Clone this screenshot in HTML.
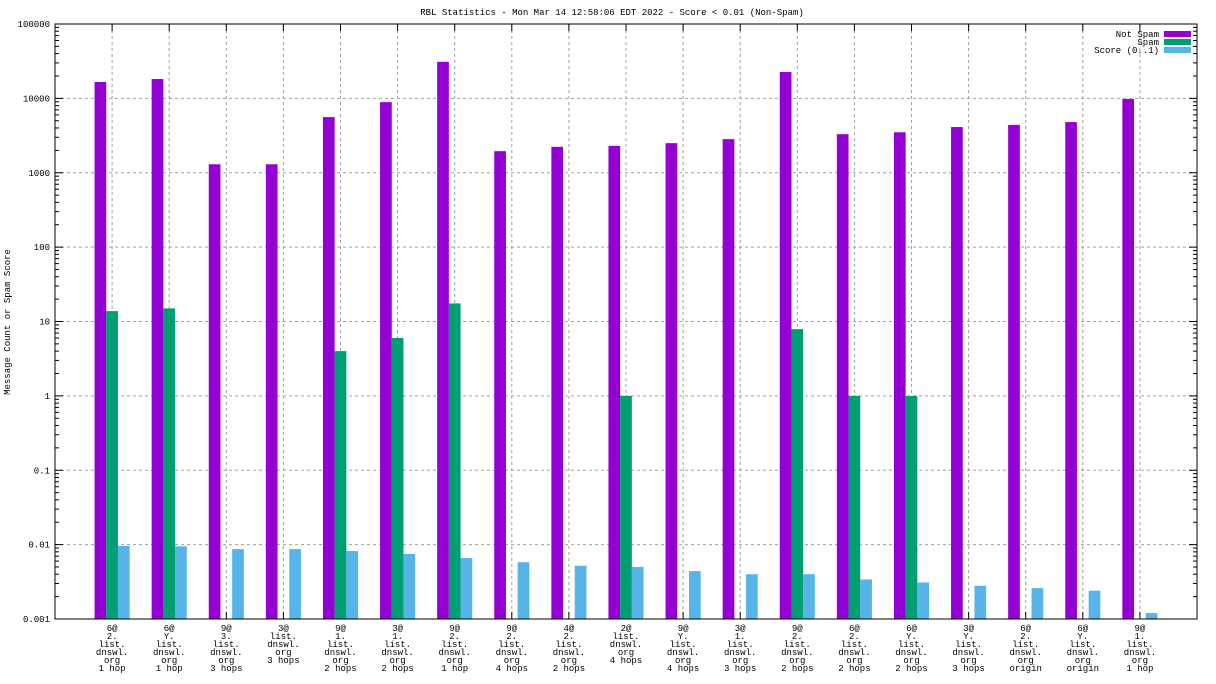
<!DOCTYPE html>
<html><head><meta charset="utf-8"><style>
html,body{margin:0;padding:0;background:#fff;}
svg{display:block;font-family:"Liberation Mono","DejaVu Sans Mono",monospace;}
</style></head><body>
<svg id="chart" width="1216" height="684" xmlns="http://www.w3.org/2000/svg"></svg>
<script>
const categories = [
 ["6@","2.","list.","dnswl.","org","1 hop"],
 ["6@","Y.","list.","dnswl.","org","1 hop"],
 ["9@","3.","list.","dnswl.","org","3 hops"],
 ["3@","list.","dnswl.","org","3 hops"],
 ["9@","1.","list.","dnswl.","org","2 hops"],
 ["3@","1.","list.","dnswl.","org","2 hops"],
 ["9@","2.","list.","dnswl.","org","1 hop"],
 ["9@","2.","list.","dnswl.","org","4 hops"],
 ["4@","2.","list.","dnswl.","org","2 hops"],
 ["2@","list.","dnswl.","org","4 hops"],
 ["9@","Y.","list.","dnswl.","org","4 hops"],
 ["3@","1.","list.","dnswl.","org","3 hops"],
 ["9@","2.","list.","dnswl.","org","2 hops"],
 ["6@","2.","list.","dnswl.","org","2 hops"],
 ["6@","Y.","list.","dnswl.","org","2 hops"],
 ["3@","Y.","list.","dnswl.","org","3 hops"],
 ["6@","2.","list.","dnswl.","org","origin"],
 ["6@","Y.","list.","dnswl.","org","origin"],
 ["9@","1.","list.","dnswl.","org","1 hop"]
];
const notSpam = [16600,18200,1300,1300,5600,8900,31000,1950,2230,2300,2500,2830,22600,3300,3500,4120,4400,4800,9800];
const spam = [13.8,15,0,0,4,6,17.5,0,0,1,0,0,7.9,1,1,0,0,0,0];
const score = [0.0096,0.0095,0.0087,0.0087,0.0082,0.0075,0.0066,0.0058,0.0052,0.005,0.0044,0.004,0.004,0.0034,0.0031,0.0028,0.0026,0.0024,0.0012];
const yTickLabels = ["0.001","0.01","0.1","1","10","100","1000","10000","100000"];

const NS="http://www.w3.org/2000/svg";
const svg=document.getElementById('chart');
const L=55,R=1197,T=24,B=619;
function xs(v){return L+(v+1)*(R-L)/20;}
function ys(v){return B-(Math.log10(v)+3)*(B-T)/8;}
function mk(tag,attrs,parent){const e=document.createElementNS(NS,tag);for(const k in attrs)e.setAttribute(k,attrs[k]);(parent||svg).appendChild(e);return e;}

// title
let t=mk('text',{x:612,y:15,'font-size':9,'text-anchor':'middle',fill:'#000'});
t.textContent="RBL Statistics - Mon Mar 14 12:58:06 EDT 2022 - Score < 0.01 (Non-Spam)";


// y axis title
t=mk('text',{x:0,y:0,'font-size':9,'text-anchor':'middle',fill:'#000',transform:'translate(10,322) rotate(-90)'});
t.textContent="Message Count or Spam Score";



// grid & y ticks
yTickLabels.forEach((lab,i)=>{
  const v=parseFloat(lab), y=ys(v);
  if(i>0&&i<8){const g=mk('line',{x1:L,x2:R,y1:y,y2:y,stroke:'#a0a0a0','stroke-dasharray':'3,3','stroke-width':1});
    
    }
  const tx=mk('text',{x:50,y:y+3,'font-size':9,'text-anchor':'end',fill:'#000'});
  tx.textContent=lab;
  
  
  mk('line',{x1:L,x2:L+8,y1:y,y2:y,stroke:'#000'});
  mk('line',{x1:R,x2:R-8,y1:y,y2:y,stroke:'#000'});
  if(i<8){for(let m=2;m<10;m++){const ym=ys(v*m);
    mk('line',{x1:L,x2:L+4,y1:ym,y2:ym,stroke:'#000'});
    mk('line',{x1:R,x2:R-4,y1:ym,y2:ym,stroke:'#000'});}}
});
categories.forEach((c,i)=>{
  const x=xs(i);
  const g=mk('line',{x1:x,x2:x,y1:T,y2:B,stroke:'#a0a0a0','stroke-dasharray':'3,3'});
  
  
  mk('line',{x1:x,x2:x,y1:B,y2:B-7,stroke:'#000'});
  mk('line',{x1:x,x2:x,y1:T,y2:T+7,stroke:'#000'});
});

// bars
const bw=11.7;
const series=[[notSpam,'#9400d3','not-spam'],[spam,'#009e73','spam'],[score,'#56b4e9','score']];
categories.forEach((c,i)=>{
  series.forEach((s,k)=>{
    const v=s[0][i]; if(!(v>0.001))return;
    const x0=xs(i)-1.5*bw+k*bw, y=ys(v);
    const r=mk('rect',{x:x0,y:y,width:bw,height:B-y,fill:s[1]});
    
    
  });
  const tx=mk('text',{'font-size':9,'text-anchor':'middle',fill:'#000'});
  
  
  c.forEach((line,j)=>{const ts=mk('tspan',{x:xs(i),y:631+j*8},tx);ts.textContent=line;});
});

// frame
mk('rect',{x:L,y:T,width:R-L,height:B-T,fill:'none',stroke:'#000','stroke-width':1});

// legend
const leg=[["Not Spam",'#9400d3'],["Spam",'#009e73'],["Score (0..1)",'#56b4e9']];
leg.forEach((l,i)=>{
  const y=34+i*8;
  const tx=mk('text',{x:1159,y:y+3,'font-size':9,'text-anchor':'end',fill:'#000'});
  tx.textContent=l[0];
  
  
  const r=mk('rect',{x:1164,y:y-3,width:27,height:6,fill:l[1]});
  
  
});
</script>
</body></html>
